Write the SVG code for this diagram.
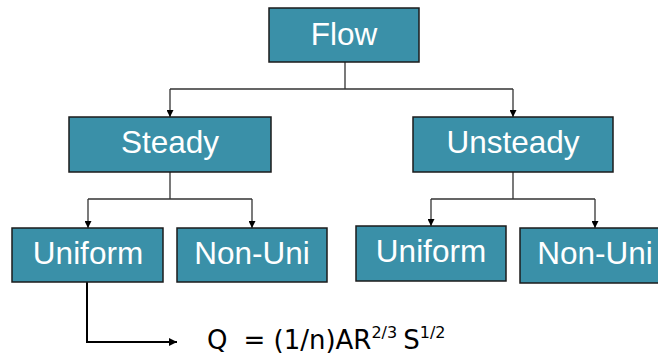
<svg xmlns="http://www.w3.org/2000/svg" width="658" height="356" viewBox="0 0 658 356">
<style>
.box{fill:#3A90A8;stroke:#1b1b1b;stroke-width:1.5}
.lbl{font-family:"Liberation Sans",Arial,sans-serif;font-size:31.5px;fill:#ffffff;text-anchor:middle}
.conn{fill:none;stroke:#333333;stroke-width:1.3}
.eq{font-family:"DejaVu Sans",Verdana,sans-serif;font-size:26px;fill:#000000}
.sup{font-size:16px}
</style>
<defs>
<marker id="ah" viewBox="0 0 10 10" refX="10" refY="5" markerWidth="7" markerHeight="7" markerUnits="userSpaceOnUse" orient="auto">
<path d="M0,0 L10,5 L0,10 z" fill="#000"/>
</marker>
<marker id="ah2" viewBox="0 0 10 10" refX="10" refY="5" markerWidth="8" markerHeight="8" markerUnits="userSpaceOnUse" orient="auto">
<path d="M0,0 L10,5 L0,10 z" fill="#000"/>
</marker>
</defs>
<g id="connectors">
<path class="conn" d="M345,62 V89 M170,89 H513" />
<path class="conn" d="M170,89 V117" marker-end="url(#ah)"/>
<path class="conn" d="M513,89 V117" marker-end="url(#ah)"/>
<path class="conn" d="M170,172 V199 M88,199 H252"/>
<path class="conn" d="M88,199 V228" marker-end="url(#ah)"/>
<path class="conn" d="M252,199 V228" marker-end="url(#ah)"/>
<path class="conn" d="M513,172 V199 M431,199 H595"/>
<path class="conn" d="M431,199 V226" marker-end="url(#ah)"/>
<path class="conn" d="M595,199 V228" marker-end="url(#ah)"/>
<path fill="none" stroke="#000" stroke-width="2" d="M87,282 V342 H177" marker-end="url(#ah2)"/>
</g>
<g id="flow"><rect class="box" x="269" y="8" width="150" height="54"/><text class="lbl" x="344" y="45">Flow</text></g>
<g id="steady"><rect class="box" x="69" y="117" width="202" height="55"/><text class="lbl" x="170" y="153">Steady</text></g>
<g id="unsteady"><rect class="box" x="413" y="117" width="200" height="55"/><text class="lbl" x="513" y="153">Unsteady</text></g>
<g id="uniform1"><rect class="box" x="12" y="228" width="151" height="54"/><text class="lbl" x="88" y="264">Uniform</text></g>
<g id="nonuni1"><rect class="box" x="177" y="228" width="150" height="54"/><text class="lbl" x="252" y="264">Non-Uni</text></g>
<g id="uniform2"><rect class="box" x="356" y="226" width="150" height="55"/><text class="lbl" x="431" y="262">Uniform</text></g>
<g id="nonuni2"><rect class="box" x="520" y="228" width="150" height="55"/><text class="lbl" x="595" y="264">Non-Uni</text></g>
<g id="equation"><text class="eq" x="207" y="349">Q<tspan dx="16">= (1/n)AR</tspan><tspan class="sup" dy="-11">2/3</tspan><tspan dx="6" dy="11">S</tspan><tspan class="sup" dy="-11">1/2</tspan></text></g>
</svg>
